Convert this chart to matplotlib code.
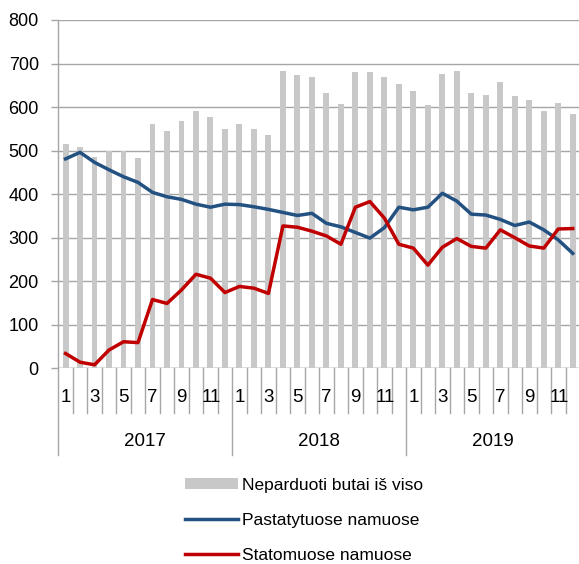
import matplotlib
matplotlib.use("Agg")
import matplotlib.pyplot as plt
from matplotlib.transforms import blended_transform_factory
from matplotlib.patches import Patch
from matplotlib.lines import Line2D

plt.rcParams['font.family'] = ['Liberation Sans', 'DejaVu Sans']

years = ["2017", "2018", "2019"]
months = list(range(1, 13))
month_labels = [str(m) if m % 2 == 1 else "" for m in months]

unsold_total = [515, 509, 485, 498, 500, 484, 561, 545, 569, 592, 577, 550,
                560, 550, 535, 683, 674, 668, 633, 608, 680, 681, 669, 654,
                636, 605, 676, 682, 632, 627, 658, 626, 616, 591, 610, 584]
built = [481, 496, 473, 456, 440, 427, 404, 394, 388, 377, 370, 377,
         376, 371, 365, 358, 351, 356, 333, 325, 312, 299, 323, 370,
         364, 370, 402, 384, 354, 352, 342, 328, 336, 318, 295, 264]
under_construction = [34, 14, 8, 42, 61, 59, 158, 149, 180, 216, 207, 174,
                      188, 184, 172, 327, 324, 315, 304, 285, 370, 383, 345, 285,
                      276, 237, 278, 298, 280, 276, 318, 300, 281, 276, 320, 321]

series_names = ["Neparduoti butai iš viso", "Pastatytuose namuose", "Statomuose namuose"]
c_bar = "#c8c8c8"
c_blue = "#235181"
c_red = "#c00000"
c_grid = "#a6a6a6"

W, H = 579, 564
fig = plt.figure(figsize=(W / 100, H / 100), dpi=100)
x0, x1, y0, y1 = 58.3, 580.0, 368.3, 20.0
ax = fig.add_axes([x0 / W, 1 - y0 / H, (x1 - x0) / W, (y0 - y1) / H])

n = len(unsold_total)
xs = list(range(n))
ax.bar(xs, unsold_total, width=0.41, color=c_bar, zorder=2)
ax.plot(xs, built, color=c_blue, lw=2.5, zorder=3, solid_joinstyle='round')
ax.plot(xs, under_construction, color=c_red, lw=2.5, zorder=4, solid_joinstyle='round')

ax.set_xlim(-0.5, n - 0.5)
ax.set_ylim(0, 800)
ax.set_yticks(range(0, 801, 100))
ax.yaxis.grid(True, color=c_grid, lw=1.0, zorder=0)
ax.set_axisbelow(True)
for s in ["top", "right", "bottom"]:
    ax.spines[s].set_visible(False)
ax.spines["left"].set_color(c_grid)
ax.spines["left"].set_linewidth(1.0)
ax.tick_params(axis='y', length=5, color=c_grid, width=1.0, pad=9, labelsize=13)
ax.set_xticks([])
ax.axhline(0, color=c_grid, lw=1.0, zorder=1)

ah = y0 - y1
tr = blended_transform_factory(ax.transData, ax.transAxes)
month_sep = -(413 - y0) / ah
year_sep = -(455 - y0) / ah
for i in range(n + 1):
    xv = i - 0.5
    ybot = year_sep if i % 12 == 0 else month_sep
    ax.plot([xv, xv], [0, ybot], transform=tr, color=c_grid, lw=1.0, clip_on=False)
for i in range(n):
    lab = month_labels[i % 12]
    if lab:
        ax.text(i + (0.05 if lab == "11" else 0), -(397 - y0) / ah, lab, transform=tr,
                ha='center', va='center', fontsize=13.5)
for k, yr in enumerate(years):
    ax.text(k * 12 + 5.5, -(441 - y0) / ah, yr, transform=tr, ha='center', va='center', fontsize=13.5)

handles = [Patch(facecolor=c_bar, edgecolor='none'),
           Line2D([], [], color=c_blue, lw=2.5),
           Line2D([], [], color=c_red, lw=2.5)]
fig.legend(handles, series_names, loc='upper left', bbox_to_anchor=(185 / W, 1 - 478 / H),
           frameon=False, fontsize=12.5, handlelength=3.05, handleheight=0.6, handletextpad=0.25,
           labelspacing=1.15, borderpad=0, borderaxespad=0)

fig.savefig("out.png", dpi=100)
